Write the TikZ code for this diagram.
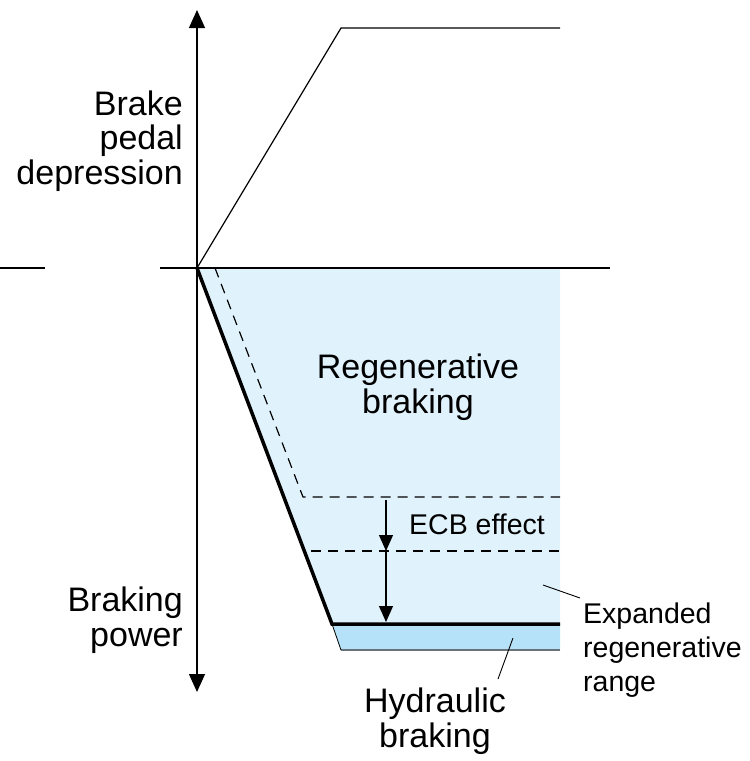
\documentclass[tikz,border=0pt]{standalone}
\usepackage{fontspec}
\setmainfont{Liberation Sans}
\usetikzlibrary{positioning,arrows.meta}

\definecolor{regenblue}{RGB}{224,242,252}
\definecolor{hydroblue}{RGB}{181,226,248}
\definecolor{stripedge}{RGB}{105,115,120}

\begin{document}
\begin{tikzpicture}[x=1pt, y=-1pt,
    axis/.style={draw, line width=1.3pt,
      {Triangle[width=16pt,length=18pt]}-{Triangle[width=16pt,length=18pt]}},
    thinline/.style={draw, line width=1.2pt},
    dashline/.style={draw, line width=1.2pt, dash pattern=on 10pt off 7pt},
    thickline/.style={draw, line width=3.5pt},
    ecbarrow/.style={draw, line width=1.2pt, -{Triangle[width=14pt,length=16pt]}},
    leader/.style={draw, line width=0.9pt},
    bigtext/.style={font=\fontsize{34}{34.5}\selectfont, inner sep=0pt},
    smalltext/.style={font=\fontsize{28.5}{34}\selectfont, inner sep=0pt}]

  \useasboundingbox (0,0) rectangle (750,761);

  \coordinate (O) at (197,268);
  \coordinate (axtop) at (197,10);
  \coordinate (axbot) at (197,692);
  \coordinate (stubL) at (0,268);
  \coordinate (stubR) at (45,268);
  \coordinate (baseL) at (160,268);
  \coordinate (baseR) at (610,268);
  \coordinate (pedalknee) at (341,28);
  \coordinate (pedalend) at (560,28);
  \coordinate (regtop) at (560,268);
  \coordinate (knee) at (332,624);
  \coordinate (thickend) at (560,624);
  \coordinate (hydroL) at (341,650);
  \coordinate (hydroR) at (560,650);
  \coordinate (dashA) at (215,268);
  \coordinate (dashknee) at (303,497);
  \coordinate (dashend) at (560,497);
  \coordinate (dash2L) at (311,551);
  \coordinate (dash2R) at (560,551);
  \coordinate (ecbtop) at (386,500);
  \coordinate (ecbmid) at (386,551);
  \coordinate (ecbbot) at (386,622);
  \coordinate (ecblabel) at (386,524);
  \coordinate (expA) at (543,585);
  \coordinate (expB) at (580,598);
  \coordinate (hydA) at (513,638);
  \coordinate (hydB) at (498,679);

  \fill[regenblue] (O) -- (regtop) -- (thickend) -- (knee) -- cycle;
  \fill[hydroblue] (knee) -- (thickend) -- (hydroR) -- (hydroL) -- cycle;
  \draw[stripedge, line width=1.2pt] (hydroL) -- (hydroR);
  \draw[line width=0.8pt] (knee) -- (hydroL);

  \draw[thinline] (stubL) -- (stubR);
  \draw[thinline] (baseL) -- (baseR);
  \draw[thinline] (O) -- (pedalknee) -- (pedalend);
  \draw[axis] (axbot) -- (axtop);

  \draw[dashline] (dashA) -- (dashknee) -- (dashend);
  \draw[dashline] (dash2L) -- (dash2R);
  \draw[thickline] (O) -- (knee) -- (thickend);

  \draw[ecbarrow] (ecbtop) -- (ecbmid);
  \draw[ecbarrow] (ecbmid) -- (ecbbot);

  \draw[leader] (expA) -- (expB);
  \draw[leader] (hydA) -- (hydB);

  \node[bigtext, align=right, anchor=east] (pedallabel) at (183,141) {Brake\\pedal\\depression};
  \node[bigtext, align=right, anchor=east] (powerlabel) at (183,620) {Braking\\power};
  \node[bigtext, align=center] (regenlabel) at (418,387) {Regenerative\\braking};
  \node[bigtext, align=center] (hydrolabel) at (435,721) {Hydraulic\\braking};
  \node[smalltext, right=23pt of ecblabel] (ecbtext) {ECB effect};
  \node[smalltext, align=left, anchor=west] (explabel) at (583,650) {Expanded\\regenerative\\range};
\end{tikzpicture}
\end{document}
